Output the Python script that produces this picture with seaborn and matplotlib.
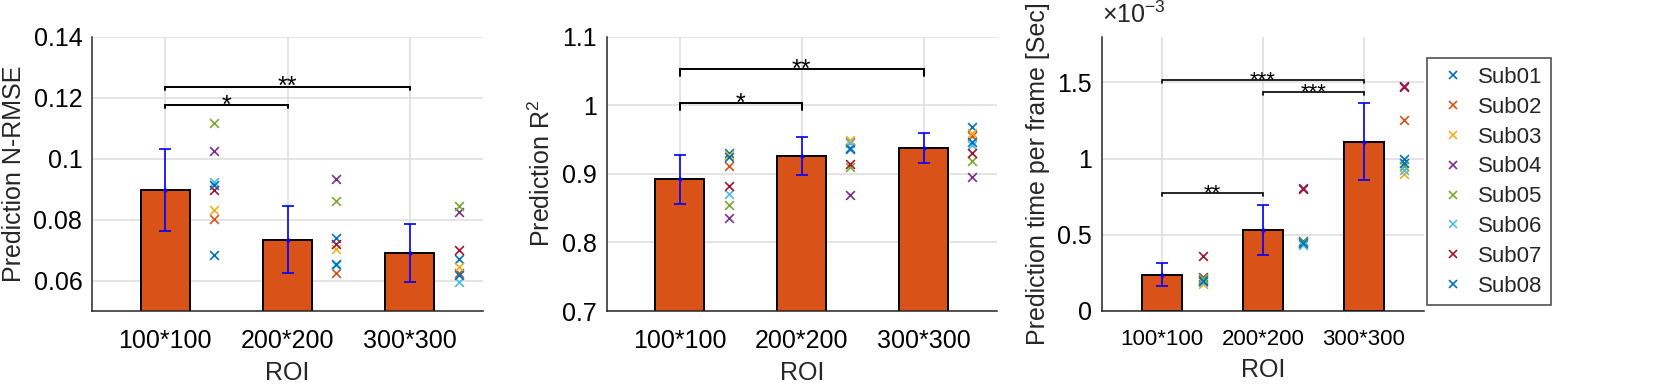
import numpy as np
import pandas as pd
import matplotlib
matplotlib.use("Agg")
import matplotlib.pyplot as plt
from matplotlib.ticker import FuncFormatter
from matplotlib.lines import Line2D
import seaborn as sns

# ---------------- data ----------------
rois = ["100*100", "200*200", "300*300"]
subjects = ["Sub01", "Sub02", "Sub03", "Sub04", "Sub05", "Sub06", "Sub07", "Sub08"]
sub_colors = ["#0072BD", "#D95319", "#EDB120", "#7E2F8E", "#77AC30", "#4DBEEE", "#A2142F", "#0072BD"]

# N-RMSE per subject (rows: subjects, cols: ROI)
nrmse_sub = [
    [0.0683, 0.0738, 0.0669],
    [0.0802, 0.0625, 0.0625],
    [0.0831, 0.0702, 0.0643],
    [0.1024, 0.0932, 0.0824],
    [0.1117, 0.0860, 0.0846],
    [0.0922, 0.0650, 0.0596],
    [0.0896, 0.0721, 0.0701],
    [0.0912, 0.0653, 0.0619],
]
nrmse_mean = [0.0896, 0.0734, 0.0690]
nrmse_sd = [0.0134, 0.0109, 0.0095]

r2_sub = [
    [0.930, 0.937, 0.969],
    [0.912, 0.947, 0.955],
    [0.927, 0.949, 0.959],
    [0.835, 0.869, 0.895],
    [0.854, 0.910, 0.919],
    [0.870, 0.945, 0.942],
    [0.883, 0.914, 0.930],
    [0.924, 0.936, 0.946],
]
r2_mean = [0.892, 0.926, 0.938]
r2_sd = [0.0357, 0.028, 0.0215]

# prediction time per frame, in units of 1e-3 s
time_sub = [
    [0.205, 0.460, 0.996],
    [0.210, 0.455, 1.254],
    [0.180, 0.440, 0.900],
    [0.222, 0.805, 1.478],
    [0.215, 0.450, 0.950],
    [0.190, 0.432, 0.925],
    [0.360, 0.798, 1.470],
    [0.198, 0.448, 0.972],
]
time_mean = [0.239, 0.533, 1.112]
time_sd = [0.076, 0.165, 0.251]

# significance brackets: (roi index a, roi index b, level, label)
sig_nrmse = [(0, 1, 0.1176, "*"), (0, 2, 0.1236, "**")]
sig_r2 = [(0, 1, 1.0035, "*"), (0, 2, 1.0531, "**")]
sig_time = [(0, 2, 1.513, "***"), (1, 2, 1.436, "***"), (0, 1, 0.772, "**")]

# ---------------- style ----------------
sns.set_style("white")
plt.rcParams["font.family"] = ["Liberation Sans", "DejaVu Sans"]
plt.rcParams["mathtext.fontset"] = "custom"
plt.rcParams["mathtext.rm"] = "Liberation Sans"
plt.rcParams["mathtext.it"] = "Liberation Sans:italic"
plt.rcParams["mathtext.bf"] = "Liberation Sans:bold"

BAR_COLOR = "#D95319"
AX_COLOR = "#262626"
FS = 18

fig = plt.figure(figsize=(16.54, 3.92), dpi=100)
W, H = 1654, 392
bottom = (H - 311) / H
height = (311 - 36.7) / H
ax1 = fig.add_axes([92 / W, bottom, 391 / W, height])
ax2 = fig.add_axes([606.7 / W, bottom, 390 / W, height])
ax3 = fig.add_axes([1101.7 / W, bottom, 322.6 / W, height])


def fmt(v, p):
    return f"{v:g}"


def draw_panel(ax, sub, means, sds, ylim, yticks, ylabel, sigs, drop, star_fs, star_off,
               bracket_lw, xfs):
    dfm = pd.DataFrame({"ROI": rois, "value": means})
    sns.barplot(data=dfm, x="ROI", y="value", width=0.4, color=BAR_COLOR, saturation=1,
                edgecolor="black", linewidth=1.4, ax=ax, errorbar=None, zorder=2)
    ax.errorbar(np.arange(3), means, yerr=sds, fmt=".", color="blue", ms=4,
                elinewidth=1.2, capsize=4.2, capthick=1.2, zorder=3)
    rows = []
    for si, s in enumerate(subjects):
        for ri in range(3):
            rows.append({"x": ri + 0.4, "value": sub[si][ri], "Subject": s})
    dfs = pd.DataFrame(rows)
    for si, s in enumerate(subjects):
        d = dfs[dfs["Subject"] == s]
        sns.scatterplot(data=d, x="x", y="value", color=sub_colors[si], marker="x",
                        s=40, linewidth=1.2, ax=ax, legend=False, zorder=4)
    # significance brackets
    for a, b, y, lab in sigs:
        ax.plot([a, a, b, b], [y - drop, y, y, y - drop], color="black", lw=bracket_lw,
                zorder=5, solid_joinstyle="miter")
        ax.annotate(lab, xy=((a + b) / 2, y), xytext=(0, star_off), textcoords="offset points",
                    ha="center", va="baseline", fontsize=star_fs, color="black")
    ax.set_xlim(-0.6, 2.6)
    ax.set_ylim(*ylim)
    ax.set_yticks(yticks)
    ax.set_xticks([0, 1, 2])
    ax.set_xticklabels(rois)
    ax.yaxis.set_major_formatter(FuncFormatter(fmt))
    ax.set_axisbelow(True)
    ax.grid(True, color="#dddddd", lw=1.1, zorder=0)
    for sp in ["top", "right"]:
        ax.spines[sp].set_visible(False)
    for sp in ["left", "bottom"]:
        ax.spines[sp].set_color(AX_COLOR)
        ax.spines[sp].set_linewidth(1.1)
        ax.spines[sp].set_zorder(6)
    ax.tick_params(axis="both", direction="in", length=4, width=1, colors=AX_COLOR,
                   labelcolor="black", labelsize=FS)
    ax.tick_params(axis="x", pad=13, labelsize=xfs)
    ax.tick_params(axis="y", pad=7)
    ax.set_xlabel("ROI", fontsize=FS, labelpad=6)
    ax.set_ylabel(ylabel, fontsize=FS, labelpad=5)


draw_panel(ax1, nrmse_sub, nrmse_mean, nrmse_sd, (0.05, 0.14), [0.06, 0.08, 0.10, 0.12, 0.14],
           "Prediction N-RMSE", sig_nrmse, 0.001, FS, -5.4, 1.4, FS)
draw_panel(ax2, r2_sub, r2_mean, r2_sd, (0.7, 1.1), [0.7, 0.8, 0.9, 1.0, 1.1],
           "Prediction R$^2$", sig_r2, 0.01, FS, -5.4, 1.4, FS)
draw_panel(ax3, time_sub, time_mean, time_sd, (0, 1.8), [0, 0.5, 1.0, 1.5],
           "Prediction time per frame [Sec]", sig_time, 0.017, 16, -4.2, 1.2, 16)
ax3.text(0.0, 1.03, r"$\times$10$^{-3}$", transform=ax3.transAxes, fontsize=FS,
         ha="left", va="bottom")

handles = [Line2D([], [], ls="", marker="x", color=c, ms=6, mew=1.2) for c in sub_colors]
leg = fig.legend(handles, subjects, loc="upper left", bbox_to_anchor=(1427 / W, 1 - 58.3 / H),
                 borderaxespad=0, frameon=True, fancybox=False, edgecolor="#262626",
                 fontsize=16, handlelength=1.6, handletextpad=0.3, labelspacing=0.4,
                 borderpad=0.38)
leg.get_frame().set_linewidth(1.2)

fig.savefig("out.png", dpi=100)
